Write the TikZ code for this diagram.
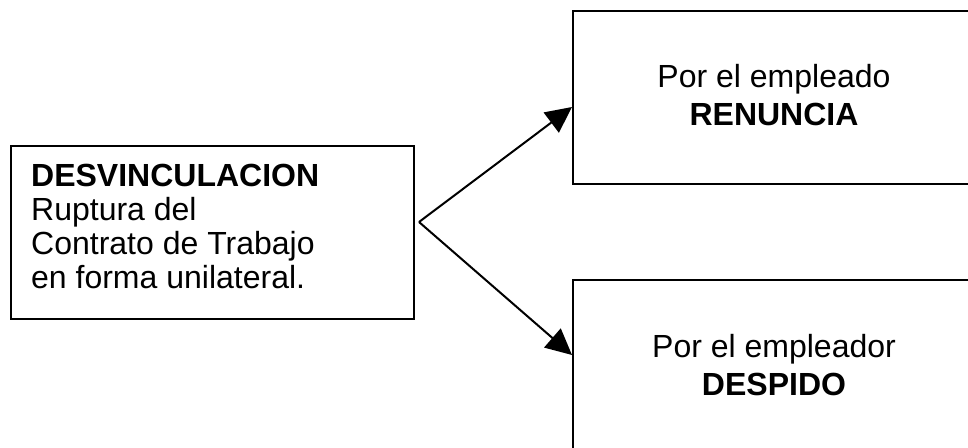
\documentclass[tikz,border=0pt]{standalone}
\usepackage{fontspec}
\setmainfont{Liberation Sans}
\usetikzlibrary{arrows.meta}
\begin{document}
\begin{tikzpicture}[x=1pt,y=1pt,
  box/.style={draw=black, line width=2pt, rectangle, inner sep=0pt, anchor=north west},
  txt/.style={inner sep=0pt, font=\fontsize{32}{34}\selectfont},
  conn/.style={line width=2pt, -{Triangle[length=26pt,width=25pt]}}]
\useasboundingbox (0,0) rectangle (968,-447);
\clip (0,0) rectangle (968,-447);
\fill[white] (0,0) rectangle (968,-447);
% boxes
\node[box, minimum width=403pt, minimum height=173pt] (L) at (10,-145) {};
\node[box, minimum width=410pt, minimum height=173pt] (R) at (572,-10) {};
\node[box, minimum width=410pt, minimum height=190pt] (D) at (572,-279) {};
% texts
\node[txt, anchor=base west] (l1) at (31,-186) {\textbf{DESVINCULACION}};
\node[txt, anchor=base west] (l2) at (31,-220) {Ruptura del};
\node[txt, anchor=base west] (l3) at (31,-254) {Contrato de Trabajo};
\node[txt, anchor=base west] (l4) at (31,-288) {en forma unilateral.};
\node[txt, anchor=base] (r1) at (774,-87) {Por el empleado};
\node[txt, anchor=base] (r2) at (774,-125) {\textbf{RENUNCIA}};
\node[txt, anchor=base] (d1) at (774,-357) {Por el empleador};
\node[txt, anchor=base] (d2) at (774,-395) {\textbf{DESPIDO}};
% connectors
\coordinate (fork) at (419,-222);
\coordinate (tipR) at (R.north west |- 0,-107);
\coordinate (tipD) at (D.north west |- 0,-355);
\draw[conn] (fork) -- (tipR);
\draw[conn] (fork) -- (tipD);
\end{tikzpicture}
\end{document}
